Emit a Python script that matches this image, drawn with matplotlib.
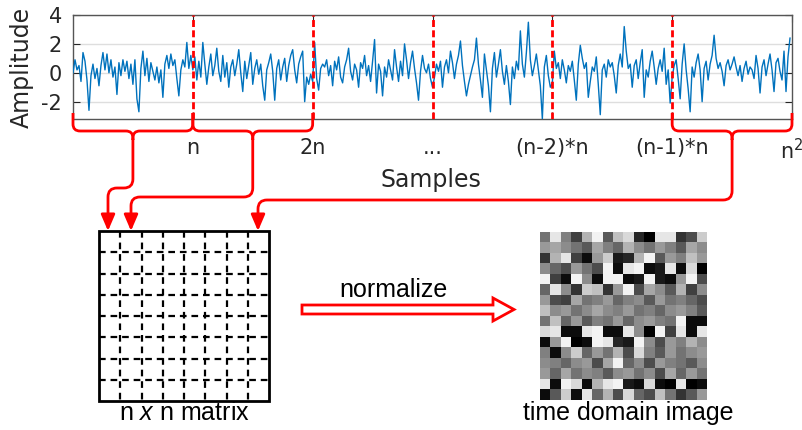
import matplotlib
matplotlib.use("Agg")
import matplotlib.pyplot as plt
import numpy as np
from matplotlib.patches import FancyArrowPatch, Polygon, PathPatch
from matplotlib.path import Path

plt.rcParams["axes.unicode_minus"] = False
plt.rcParams["mathtext.fontset"] = "custom"
plt.rcParams["mathtext.rm"] = "Liberation Sans"
plt.rcParams["mathtext.it"] = "Liberation Sans:italic"

W, H = 802, 430
RED = "#ff0000"
BLUE = "#0072bd"
INK = "#262626"

# signal, one list per n-sample segment
seg1 = [0.0, 0.9, 0.2, 0.5, -0.6, 1.4, 0.8, -0.5, -2.6, -0.2,
        0.6, -0.4, 0.3, -0.9, 0.5, 1.4, 0.2, 1.3, 0.0, 0.9,
        -0.3, 0.4, -1.5, 0.7, -0.2, 0.9, 0.1, 0.8, -0.4, 0.6,
        -0.8, 0.9, -1.8, -2.7, 0.3, 1.5, -0.2, 1.0, -0.6, 0.7,
        0.1, -0.5, 0.4, -0.7, 0.2, -1.7, 0.6, 1.2, 0.3, 1.3,
        0.5, 0.9, -0.4, -1.6, 0.2, 0.9, 0.4, 2.1, 0.3, 1.2]
seg2 = [0.2, 1.1, -0.5, 0.8, -0.3, 2.1, 0.6, -0.8, 0.4, 1.3,
        -0.2, 0.5, 1.7, 0.1, -0.6, 1.2, -0.3, 0.7, -1.0, 0.4,
        0.9, -0.2, 0.6, 1.6, 0.0, -1.3, 0.8, -0.4, 0.5, 1.4,
        -0.8, 0.3, 0.9, -0.1, 0.6, -0.9, -1.9, 0.2, 0.7, 1.3,
        0.1, -1.9, 0.3, 0.9, -0.5, 0.4, 1.0, -0.6, 0.5, 1.2,
        1.6, 0.2, -0.7, 0.6, 1.1, 1.5, -2.0, -0.3, -0.8, -0.1]
seg3 = [-0.6, 2.1, -0.4, -1.2, 0.3, 0.6, 0.4, 0.9, -0.2, 0.5,
        -0.9, 0.8, 0.2, 1.1, -0.3, -0.7, 0.4, 0.9, 1.7, 0.1,
        -0.5, 0.6, 0.2, -1.0, 0.7, 0.3, 1.2, -0.2, 0.5, -0.6,
        0.8, 2.3, -1.4, 0.6, 0.1, -1.6, 0.4, -0.3, 0.9, 0.2,
        -0.5, 1.6, 0.4, -0.6, 0.8, -0.2, 2.0, 0.9, -0.4, 0.7,
        1.5, 0.3, -0.7, -1.9, 0.1, 1.2, 0.3, 0.0, 0.6, -0.4]
seg4 = [-1.0, -0.3, 0.6, 0.1, 0.8, -1.0, 0.4, 0.9, 0.0, 1.5,
        0.7, -0.4, 0.6, 1.2, 2.2, 0.5, -0.6, -1.6, -0.8, -0.2,
        0.4, 0.9, 2.4, 0.6, -0.5, -1.7, 1.3, 0.2, -0.9, -2.7,
        0.3, 1.4, -0.3, 0.6, 1.6, 0.1, -0.8, 0.5, -0.6, -2.2,
        0.4, -0.4, 0.8, 0.2, 2.9, 0.6, -0.3, 1.4, 3.5, 0.9,
        -0.2, 0.5, 1.3, 0.2, -0.9, -3.2, 0.4, 1.2, -0.2, -1.0]
seg5 = [-0.7, 1.5, 0.3, 0.7, -0.4, 0.9, 0.2, -0.7, 0.5, 0.1,
        0.8, -0.5, -1.9, 0.6, 1.9, 1.0, 0.3, 0.7, -1.7, -0.6,
        0.4, 0.1, 1.1, -0.8, -2.9, 0.2, 0.6, -0.3, 0.9, 0.4,
        0.7, -0.2, -1.4, 0.5, 1.3, 0.4, 3.2, 1.5, 0.3, 0.6,
        -1.0, 0.5, 0.9, -0.4, 0.7, 1.6, -1.7, 0.2, -0.3, 0.8,
        1.5, 0.4, -0.8, 0.3, 0.9, 0.1, 1.7, -0.8, 0.2, -2.1]
seg6 = [-0.3, 0.5, 0.9, -0.4, -1.8, 0.6, 2.0, 0.2, -1.1, -2.7,
        0.4, -0.3, 0.7, 1.3, 0.2, -2.0, 0.3, 0.8, -0.5, 0.6,
        1.2, 2.6, 1.0, 0.3, 0.7, 0.1, -0.9, 0.5, 0.9, 0.2,
        0.6, 1.1, 0.4, -0.2, 0.5, -0.6, 0.3, 0.8, -0.1, 0.4,
        0.2, -0.4, 1.2, 0.3, -1.4, 0.4, 0.9, -0.2, 0.6, 1.3,
        0.2, -1.3, 0.7, 1.0, 0.1, -0.5, 1.5, -1.3, 1.1, 2.4]
signal = seg1 + seg2 + seg3 + seg4 + seg5 + seg6

boundaries = [60, 120, 180, 240, 300]
tick_pos = [60, 120, 180, 240, 300, 360]
tick_labels = ["n", "2n", "...", "(n-2)*n", "(n-1)*n", r"$\mathregular{n^2}$"]
yticks = [-2, 0, 2, 4]

# 16 x 16 time-domain image, 0 = black, 1 = white
tdi = [
    [0.45, 0.90, 0.50, 0.25, 0.70, 0.95, 0.35, 0.75, 0.85, 0.15, 0.00, 0.90, 0.90, 0.20, 0.30, 0.80],
    [0.60, 0.65, 0.55, 0.45, 0.35, 0.65, 0.50, 0.40, 0.70, 0.55, 0.45, 0.60, 0.50, 0.35, 0.65, 0.55],
    [0.20, 0.70, 0.90, 0.25, 0.05, 0.60, 0.80, 0.10, 0.15, 0.70, 0.95, 0.35, 0.60, 0.50, 0.75, 0.60],
    [0.55, 0.40, 0.30, 0.60, 0.45, 0.30, 0.95, 0.05, 0.90, 0.95, 0.05, 0.10, 0.90, 0.05, 0.85, 0.00],
    [0.95, 0.25, 0.05, 0.95, 0.55, 0.05, 0.95, 0.95, 0.05, 0.10, 0.95, 0.10, 0.05, 0.60, 0.95, 0.30],
    [0.40, 0.90, 0.55, 0.20, 0.80, 0.75, 0.20, 0.60, 0.95, 0.30, 0.65, 0.55, 0.35, 0.70, 0.25, 0.55],
    [0.60, 0.30, 0.25, 0.65, 0.45, 0.50, 0.60, 0.40, 0.50, 0.55, 0.35, 0.60, 0.45, 0.50, 0.40, 0.30],
    [0.75, 0.55, 0.60, 0.45, 0.55, 0.65, 0.55, 0.50, 0.60, 0.45, 0.50, 0.40, 0.55, 0.60, 0.50, 0.35],
    [0.45, 0.75, 0.40, 0.60, 0.35, 0.50, 0.45, 0.60, 0.40, 0.55, 0.60, 0.50, 0.45, 0.95, 0.05, 0.05],
    [0.85, 0.90, 0.05, 0.05, 0.90, 0.95, 0.05, 0.05, 0.90, 0.55, 0.00, 0.95, 0.25, 0.90, 0.05, 0.90],
    [0.05, 0.60, 0.95, 0.00, 0.05, 0.95, 0.90, 0.15, 0.10, 0.95, 0.55, 0.30, 0.60, 0.50, 0.70, 0.55],
    [0.50, 0.05, 0.55, 0.80, 0.40, 0.60, 0.45, 0.70, 0.30, 0.85, 0.50, 0.35, 0.60, 0.45, 0.55, 0.60],
    [0.55, 0.50, 0.40, 0.55, 0.60, 0.30, 0.65, 0.95, 0.40, 0.55, 0.30, 0.60, 0.50, 0.45, 0.35, 0.55],
    [0.60, 0.40, 0.65, 0.45, 0.55, 0.50, 0.35, 0.55, 0.60, 0.45, 0.55, 0.30, 0.65, 0.40, 0.60, 0.45],
    [0.90, 0.05, 0.95, 0.85, 0.05, 0.70, 0.90, 0.95, 0.10, 0.05, 0.85, 0.05, 0.00, 0.90, 0.00, 0.05],
    [0.05, 0.35, 0.80, 0.05, 0.90, 0.40, 0.70, 0.30, 0.85, 0.40, 0.30, 0.75, 0.45, 0.20, 0.35, 0.60],
]


def rounded(points, r):
    """Polyline through points with rounded corners of radius r."""
    pts = [np.asarray(p, float) for p in points]
    verts = [pts[0]]
    codes = [Path.MOVETO]
    for i in range(1, len(pts) - 1):
        a, b, c = pts[i - 1], pts[i], pts[i + 1]
        d1 = (b - a) / np.linalg.norm(b - a)
        d2 = (c - b) / np.linalg.norm(c - b)
        verts += [b - d1 * r, b, b + d2 * r]
        codes += [Path.LINETO, Path.CURVE3, Path.CURVE3]
    verts.append(pts[-1])
    codes.append(Path.LINETO)
    return Path(verts, codes)


def px_x(i):
    # sample index -> overlay pixel x
    return 73 + i * (792 - 73) / 360


fig = plt.figure(figsize=(W / 100, H / 100), dpi=100)

# ---- signal panel ----------------------------------------------------
ax = fig.add_axes([73 / W, 1 - 119 / H, (792 - 73) / W, (119 - 15) / H])
ax.plot(np.arange(len(signal)), signal, color=BLUE, lw=1.0, zorder=3)
ax.set_xlim(0, 360)
ax.set_ylim(-3.2, 4)
ax.set_yticks(yticks)
ax.set_xticks(tick_pos)
ax.set_xticklabels(tick_labels)
ax.grid(axis="y", color="#dedede", lw=1.0)
ax.set_axisbelow(True)
for b in boundaries:
    ax.axvline(b, color=RED, lw=2, ls=(0, (2.5, 1.2)), zorder=4)
ax.tick_params(direction="in", top=True, right=True, length=5,
               labelsize=15, labelcolor=INK, color=INK)
ax.tick_params(axis="x", pad=14)
ax.tick_params(axis="y", pad=8)
for s in ax.spines.values():
    s.set_color("#555555")
    s.set_linewidth(1.0)

# ---- overlay in pixel coordinates ------------------------------------
ov = fig.add_axes([0, 0, 1, 1], zorder=5)
ov.set_xlim(0, W)
ov.set_ylim(H, 0)
ov.axis("off")
ov.patch.set_alpha(0)

ov.text(22, 67, "Amplitude", rotation=90, ha="center", va="center",
        fontsize=17, color=INK)
ov.text(431, 187, "Samples", ha="center", va="baseline", fontsize=17,
        color=INK)

# braces under the first, second and last segments
brace_segments = [(0, 60), (60, 120), (300, 360)]
for i0, i1 in brace_segments:
    x0, x1 = px_x(i0), px_x(i1)
    xc = (x0 + x1) / 2
    for xe in (x0, x1):
        ov.add_patch(PathPatch(rounded([(xe, 113), (xe, 131), (xc, 131), (xc, 140)], 7),
                               fill=False, ec=RED, lw=2, capstyle="butt"))

# connectors from brace tips to the matrix
connectors = [
    [(px_x(30), 139), (px_x(30), 188), (108, 188), (108, 231)],
    [(px_x(90), 139), (px_x(90), 197), (131, 197), (131, 231)],
    [(px_x(330), 139), (px_x(330), 200), (258, 200), (258, 231)],
]
for pts in connectors:
    ov.add_patch(FancyArrowPatch(path=rounded(pts, 9),
                                 arrowstyle="-|>,head_length=0.7,head_width=0.3",
                                 mutation_scale=14, color=RED, lw=2))

# n x n matrix sketch
mx0, my0, msz, ncell = 99, 231, 170, 8
cell = msz / ncell
for k in range(1, ncell):
    ov.plot([mx0 + k * cell] * 2, [my0, my0 + msz], color="black", lw=1.6,
            ls=(0, (3, 2.2)))
    ov.plot([mx0, mx0 + msz], [my0 + k * cell] * 2, color="black", lw=1.6,
            ls=(0, (3, 2.2)))
ov.add_patch(Polygon([(mx0, my0), (mx0 + msz, my0), (mx0 + msz, my0 + msz),
                      (mx0, my0 + msz)], closed=True, fill=False,
                     ec="black", lw=2))
ov.text(184, 420, r"n $\mathit{x}$ n matrix", ha="center", va="baseline",
        fontsize=18, family="Liberation Sans", color="black")

# normalize arrow
ov.add_patch(Polygon([(302, 305), (493, 305), (493, 298), (514, 309.5),
                      (493, 321), (493, 314), (302, 314)], closed=True,
                     fc="white", ec=RED, lw=2))
ov.text(393, 297, "normalize", ha="center", va="baseline", fontsize=18,
        family="Liberation Sans", color="black")

ov.text(628, 420, "time domain image", ha="center", va="baseline",
        fontsize=18, family="Liberation Sans", color="black")

# ---- time domain image ----------------------------------------------
axi = fig.add_axes([540 / W, 1 - 400 / H, 167 / W, 168 / H])
axi.imshow(np.array(tdi), cmap="gray", vmin=0, vmax=1,
           interpolation="nearest", aspect="auto")
axi.axis("off")

fig.savefig("out.png", dpi=100, facecolor="white")
